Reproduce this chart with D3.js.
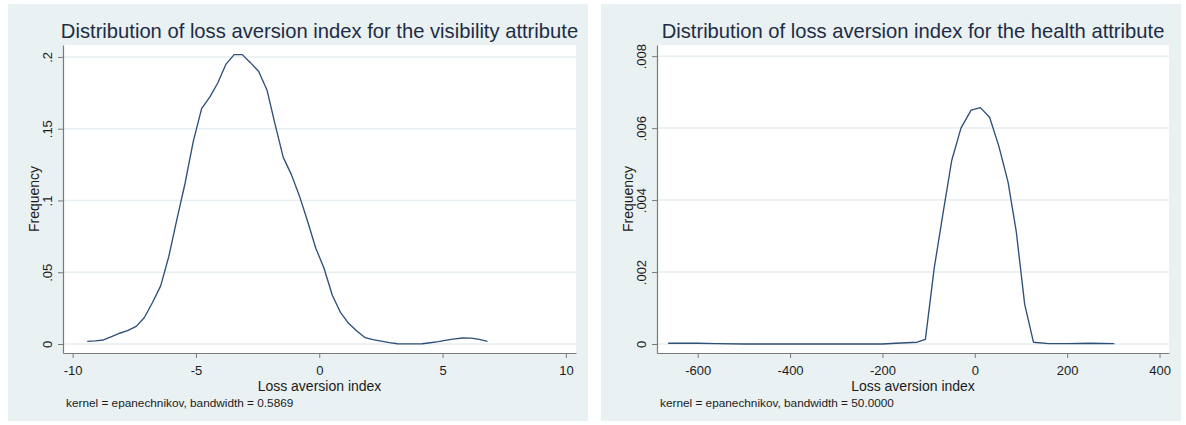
<!DOCTYPE html>
<html>
<head>
<meta charset="utf-8">
<script src="https://cdn.jsdelivr.net/npm/d3@7"></script>
<style>
  html, body { margin: 0; padding: 0; background: #ffffff; }
  svg { display: block; }
  text { font-family: "Liberation Sans", Arial, sans-serif; }
</style>
</head>
<body>
<svg id="chart" width="1186" height="425"></svg>
<script>
// Kernel density estimate of the loss aversion index, visibility attribute
const visX = [-9.41, -9.08, -8.75, -8.42, -8.09, -7.75, -7.42, -7.09, -6.76, -6.43,
              -6.10, -5.77, -5.44, -5.11, -4.77, -4.44, -4.11, -3.78, -3.45, -3.12,
              -2.79, -2.46, -2.12, -1.79, -1.46, -1.13, -0.80, -0.47, -0.14, 0.19,
              0.53, 0.86, 1.19, 1.52, 1.85, 2.18, 2.51, 2.84, 3.17, 3.51,
              3.84, 4.17, 4.50, 4.83, 5.16, 5.49, 5.82, 6.15, 6.49, 6.82];
const visDensity = [0.0018, 0.0022, 0.0028, 0.0052, 0.0075, 0.0095, 0.0123, 0.0185, 0.0289, 0.0405,
                    0.0610, 0.0870, 0.1120, 0.1410, 0.1640, 0.1720, 0.1820, 0.1950, 0.2016, 0.2016,
                    0.1960, 0.1900, 0.1770, 0.1530, 0.1300, 0.1180, 0.1030, 0.0853, 0.0667, 0.0530,
                    0.0340, 0.0220, 0.0144, 0.0090, 0.0045, 0.0030, 0.0020, 0.0010, 0.0002, 0.0001,
                    0.0001, 0.0002, 0.0009, 0.0017, 0.0027, 0.0036, 0.0042, 0.0041, 0.0032, 0.0019];

// Kernel density estimate of the loss aversion index, health attribute
const healthX = [-664, -600, -560, -500, -400, -300, -200, -170, -125, -107,
                 -88, -68, -50, -30, -8, 12, 32, 52, 72, 90,
                 108, 127, 160, 200, 250, 302];
const healthDensity = [0.00002, 0.00002, 0.00001, 0.0, 0.0, 0.0, 0.0, 0.00002, 0.00005, 0.00013,
                       0.0021, 0.0037, 0.0051, 0.0060, 0.0065, 0.00657, 0.0063, 0.0055, 0.0045, 0.0031,
                       0.0011, 0.00005, 0.00001, 0.00001, 0.00002, 0.00001];

// Axis ticks and their labels
const visXTicks = [-10, -5, 0, 5, 10];
const visYTicks = [0, 0.05, 0.1, 0.15, 0.2];
const visYLabels = ["0", ".05", ".1", ".15", ".2"];
const healthXTicks = [-600, -400, -200, 0, 200, 400];
const healthYTicks = [0, 0.002, 0.004, 0.006, 0.008];
const healthYLabels = ["0", ".002", ".004", ".006", ".008"];

const panels = [
  {
    title: "Distribution of loss aversion index for the visibility attribute",
    note: "kernel = epanechnikov, bandwidth = 0.5869",
    xs: visX, ys: visDensity,
    xTicks: visXTicks, yTicks: visYTicks, yLabels: visYLabels,
    xDomain: [-10.39, 10.41], yDomain: [-0.00626, 0.2083],
    bg: [8, 4, 580, 417], plot: [63, 45, 576, 353]
  },
  {
    title: "Distribution of loss aversion index for the health attribute",
    note: "kernel = epanechnikov, bandwidth = 50.0000",
    xs: healthX, ys: healthDensity,
    xTicks: healthXTicks, yTicks: healthYTicks, yLabels: healthYLabels,
    xDomain: [-688.2, 420.5], yDomain: [-0.00025, 0.00831],
    bg: [601, 4, 580, 417], plot: [657, 45, 1169, 353]
  }
];

const svg = d3.select("#chart");
const bgColor = "#e9f1f3";
const gridColor = "#e6eef1";
const axisColor = "#7a7a7a";
const lineColor = "#2f5078";
const textColor = "#1b1b1b";

panels.forEach(p => {
  const [x0, y0, x1, y1] = p.plot;
  const x = d3.scaleLinear().domain(p.xDomain).range([x0, x1]);
  const y = d3.scaleLinear().domain(p.yDomain).range([y1, y0]);

  const g = svg.append("g");

  // graph region
  g.append("rect")
    .attr("x", p.bg[0]).attr("y", p.bg[1])
    .attr("width", p.bg[2]).attr("height", p.bg[3])
    .attr("fill", bgColor);

  // plot region
  g.append("rect")
    .attr("x", x0).attr("y", y0)
    .attr("width", x1 - x0).attr("height", y1 - y0)
    .attr("fill", "#ffffff");

  // horizontal grid lines
  g.append("g").selectAll("line")
    .data(p.yTicks)
    .join("line")
    .attr("x1", x0).attr("x2", x1)
    .attr("y1", d => y(d)).attr("y2", d => y(d))
    .attr("stroke", gridColor)
    .attr("stroke-width", 1.5);

  // density curve
  const line = d3.line()
    .x((d, i) => x(p.xs[i]))
    .y(d => y(d));
  g.append("path")
    .datum(p.ys)
    .attr("d", line)
    .attr("fill", "none")
    .attr("stroke", lineColor)
    .attr("stroke-width", 1.35)
    .attr("stroke-linejoin", "round");

  // x axis
  const xAxis = d3.axisBottom(x)
    .tickValues(p.xTicks)
    .tickSize(5)
    .tickSizeOuter(0)
    .tickPadding(8)
    .tickFormat(d => d3.format("d")(d).replace("\u2212", "-"));
  const gx = g.append("g")
    .attr("transform", `translate(0,${y1})`)
    .call(xAxis);
  gx.select(".domain").attr("stroke", axisColor).attr("stroke-width", 1.2);
  gx.selectAll(".tick line").attr("stroke", axisColor).attr("stroke-width", 1);
  gx.selectAll(".tick text")
    .attr("fill", textColor)
    .style("font-size", "13px")
    .style("font-family", "'Liberation Sans', Arial, sans-serif");

  // y axis with rotated labels
  const yAxis = d3.axisLeft(y)
    .tickValues(p.yTicks)
    .tickSize(5)
    .tickSizeOuter(0)
    .tickFormat((d, i) => p.yLabels[i]);
  const gy = g.append("g")
    .attr("transform", `translate(${x0},0)`)
    .call(yAxis);
  gy.select(".domain").attr("stroke", axisColor).attr("stroke-width", 1.2);
  gy.selectAll(".tick line").attr("stroke", axisColor).attr("stroke-width", 1);
  gy.selectAll(".tick text")
    .attr("x", null).attr("dy", null)
    .attr("text-anchor", "middle")
    .attr("transform", "translate(-16,0) rotate(-90)")
    .attr("dy", "0.35em")
    .attr("fill", textColor)
    .style("font-size", "13px")
    .style("font-family", "'Liberation Sans', Arial, sans-serif");

  // y axis title
  g.append("text")
    .attr("transform", `translate(${x0 - 29},${(y0 + y1) / 2}) rotate(-90)`)
    .attr("text-anchor", "middle")
    .attr("dy", "0.35em")
    .attr("fill", textColor)
    .style("font-size", "14px")
    .text("Frequency");

  // x axis title
  g.append("text")
    .attr("x", (x0 + x1) / 2)
    .attr("y", 391)
    .attr("text-anchor", "middle")
    .attr("fill", textColor)
    .style("font-size", "14px")
    .text("Loss aversion index");

  // kernel note
  g.append("text")
    .attr("x", x0 + 3)
    .attr("y", 407)
    .attr("fill", textColor)
    .style("font-size", "11.8px")
    .text(p.note);

  // panel title
  g.append("text")
    .attr("x", (x0 + x1) / 2)
    .attr("y", 37.5)
    .attr("text-anchor", "middle")
    .attr("fill", "#1e2c44")
    .style("font-size", "20.2px")
    .text(p.title);
});
</script>
</body>
</html>
